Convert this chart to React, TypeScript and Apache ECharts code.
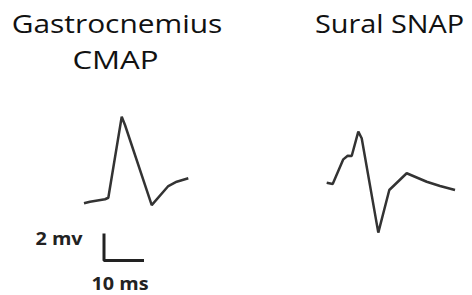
import React, { useEffect, useRef } from "react";
import * as echarts from "echarts";

// CMAP trace: time (ms from onset) and amplitude (mV from baseline)
const cmapTime = [0, 1.5, 5.25, 6.08, 9.43, 10.25, 16.93, 21.08, 23.18, 26.08];
const cmapVolt = [0, 0.12, 0.3, 0.41, 6.41, 5.8, -0.13, 1.28, 1.6, 1.85];

// Sural SNAP trace
const snapTime = [0, 1.5, 4.15, 5.25, 6.25, 7.9, 8.75, 12.9, 15.65, 20, 25, 28.33, 32.08];
const snapVolt = [0, -0.1, 1.73, 2.0, 1.98, 3.78, 3.29, -3.7, -0.54, 0.7, 0.07, -0.24, -0.54];

// Scale bar
const scaleMs = 10;
const scaleMv = 2;

const titleCmap = ["Gastrocnemius", "CMAP"];
const titleSnap = "Sural SNAP";
const labelMv = "2 mv";
const labelMs = "10 ms";

export default function App() {
  const ref = useRef<HTMLDivElement>(null);
  useEffect(() => {
    document.body.style.margin = "0";
    const chart = echarts.init(ref.current!, undefined, { renderer: "svg" });
    const pxPerMs = 4;
    const pxPerMv = 13.5;
    const traceColor = "#333333";
    const hiddenX = (gi: number, max: number) => ({
      type: "value", gridIndex: gi, min: 0, max, show: false,
    });
    const hiddenY = (gi: number, min: number, max: number) => ({
      type: "value", gridIndex: gi, min, max, show: false,
    });
    const txt = (text: string, x: number, y: number, font: string, fill: string, sx: number) => ({
      type: "text", x, y, scaleX: sx,
      style: { text, font, fill, textAlign: "center", textVerticalAlign: "middle" },
    });
    chart.setOption({
      animation: false,
      backgroundColor: "#ffffff",
      grid: [
        { left: 84, top: 203.3 - 8 * pxPerMv, width: 30 * pxPerMs, height: 10 * pxPerMv },
        { left: 326.7, top: 182.7 - 5 * pxPerMv, width: 35 * pxPerMs, height: 10 * pxPerMv },
        { left: 104, top: 260.5 - scaleMv * pxPerMv, width: scaleMs * pxPerMs, height: scaleMv * pxPerMv },
      ],
      xAxis: [hiddenX(0, 30), hiddenX(1, 35), hiddenX(2, scaleMs)],
      yAxis: [hiddenY(0, -2, 8), hiddenY(1, -5, 5), hiddenY(2, 0, scaleMv)],
      series: [
        {
          type: "line", xAxisIndex: 0, yAxisIndex: 0, showSymbol: false,
          lineStyle: { color: traceColor, width: 2.5 },
          data: cmapTime.map((t, i) => [t, cmapVolt[i]]),
        },
        {
          type: "line", xAxisIndex: 1, yAxisIndex: 1, showSymbol: false,
          lineStyle: { color: traceColor, width: 2.5 },
          data: snapTime.map((t, i) => [t, snapVolt[i]]),
        },
        {
          type: "line", xAxisIndex: 2, yAxisIndex: 2, showSymbol: false,
          lineStyle: { color: "#222222", width: 3 },
          data: [[0, scaleMv], [0, 0], [scaleMs, 0]],
        },
      ],
      graphic: [
        txt(titleCmap[0], 117, 22.5, "26px 'Open Sans'", "#111111", 1.15),
        txt(titleCmap[1], 115.5, 58.5, "26px 'Open Sans'", "#111111", 1.2),
        txt(titleSnap, 389.5, 23.5, "26px 'Open Sans'", "#111111", 1.11),
        txt(labelMv, 59, 238.5, "bold 18px 'Open Sans'", "#222222", 1.1),
        txt(labelMs, 120, 283.5, "bold 18px 'Open Sans'", "#222222", 1.1),
      ],
    });
    return () => chart.dispose();
  }, []);
  return <div ref={ref} style={{ width: 472, height: 295 }} />;
}
